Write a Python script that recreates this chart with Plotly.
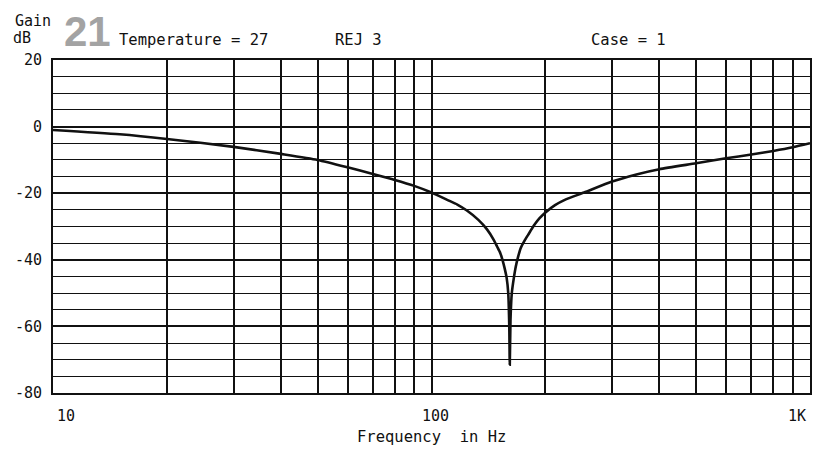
import math
import plotly.graph_objects as go

# ---- data ----
freq_hz = [10, 15, 20, 30, 40, 50, 60, 70, 80, 90, 100, 110, 117, 124, 133, 140, 146,
           149, 152, 154, 156, 158, 159.5, 160.5, 161, 161.7, 163, 165, 167, 169,
           172, 176, 180, 187, 193, 200, 212, 225, 253, 300, 350, 400, 500, 600,
           700, 800, 900, 1000]
gain_db = [-1.0, -2.3, -3.7, -6.1, -8.2, -10.0, -12.2, -14.2, -16.0, -17.8, -19.8,
           -22.0, -23.4, -25.2, -28.0, -30.8, -34.0, -36.0, -38.0, -40.0, -42.5, -45.5,
           -50.0, -60.0, -71.5, -58.0, -50.0, -45.5, -42.0, -39.5, -36.5, -34.3,
           -32.5, -29.5, -27.5, -25.8, -23.6, -22.0, -19.8, -16.5, -14.3, -12.8,
           -11.0, -9.5, -8.4, -7.3, -6.2, -5.0]

y_major = [-80, -60, -40, -20, 0, 20]
y_major_text = ["-80", "-60", "-40", "-20", "0", "20"]
y_minor = [-75, -70, -65, -55, -50, -45, -35, -30, -25, -15, -10, -5, 5, 10, 15]
x_major = [10, 100, 1000]
x_major_text = ["10", "100", "1K"]
x_minor = [20, 30, 40, 50, 60, 70, 80, 90, 200, 300, 400, 500, 600, 700, 800, 900]

FONT = "DejaVu Sans Mono, monospace"
INK = "#111111"

fig = go.Figure()
fig.add_trace(go.Scatter(x=freq_hz, y=gain_db, mode="lines",
                         line=dict(color=INK, width=2.6, shape="spline", smoothing=0.6),
                         hoverinfo="skip", showlegend=False))

fig.update_layout(
    width=821, height=450,
    margin=dict(l=53, r=11, t=60, b=57, autoexpand=False),
    paper_bgcolor="white", plot_bgcolor="white",
    font=dict(family=FONT, color=INK, size=14),
    xaxis=dict(type="log", range=[1, 3], tickvals=x_major, ticktext=["", "", ""],
               showgrid=True, gridcolor=INK, gridwidth=1.6, automargin=False,
               minor=dict(tickvals=x_minor, showgrid=True, gridcolor=INK, gridwidth=1.5),
               showline=True, linecolor=INK, linewidth=2, mirror=True,
               zeroline=False, ticks=""),
    yaxis=dict(range=[-80, 20], tickvals=y_major, ticktext=y_major_text,
               showgrid=True, gridcolor=INK, gridwidth=1.6, automargin=False,
               minor=dict(tickvals=y_minor, showgrid=True, gridcolor=INK, gridwidth=1.3),
               showline=True, linecolor=INK, linewidth=2, mirror=True,
               zeroline=False, ticks="", ticklabelstandoff=6,
               tickfont=dict(size=15, family=FONT, color=INK)),
)

# x tick labels
fig.add_annotation(x=math.log10(10), y=0, xref="x", yref="paper", yshift=-12,
                   text=x_major_text[0], showarrow=False, xanchor="left", yanchor="top",
                   xshift=2, font=dict(size=15, family=FONT, color=INK))
fig.add_annotation(x=math.log10(100), y=0, xref="x", yref="paper", yshift=-12,
                   text=x_major_text[1], showarrow=False, xanchor="center", yanchor="top",
                   xshift=4, font=dict(size=15, family=FONT, color=INK))
fig.add_annotation(x=math.log10(1000), y=0, xref="x", yref="paper", yshift=-12,
                   text=x_major_text[2], showarrow=False, xanchor="right", yanchor="top",
                   xshift=-2, font=dict(size=15, family=FONT, color=INK))

# axis title
fig.add_annotation(x=0.5, y=0, xref="paper", yref="paper", yshift=-33,
                   text="Frequency  in Hz", showarrow=False, xanchor="center",
                   yanchor="top", font=dict(size=15.5, family=FONT, color=INK))

# header texts (pixel positions converted to paper coords)
def px(xp):
    return (xp - 53) / (810 - 53)

def py(yp):
    return (393 - yp) / (393 - 60)

fig.add_annotation(x=px(13), y=py(21), xref="paper", yref="paper", text="Gain",
                   showarrow=False, xanchor="left", yanchor="middle",
                   font=dict(size=15, family=FONT, color=INK))
fig.add_annotation(x=px(11), y=py(38), xref="paper", yref="paper", text="dB",
                   showarrow=False, xanchor="left", yanchor="middle",
                   font=dict(size=15, family=FONT, color=INK))
fig.add_annotation(x=px(62), y=py(32), xref="paper", yref="paper", text="<b>21</b>",
                   showarrow=False, xanchor="left", yanchor="middle",
                   font=dict(size=42, family="Liberation Sans, Arial, sans-serif",
                             color="#a3a3a3"))
fig.add_annotation(x=px(117), y=py(40), xref="paper", yref="paper", text="Temperature = 27",
                   showarrow=False, xanchor="left", yanchor="middle",
                   font=dict(size=15.5, family=FONT, color=INK))
fig.add_annotation(x=px(333), y=py(40), xref="paper", yref="paper", text="REJ 3",
                   showarrow=False, xanchor="left", yanchor="middle",
                   font=dict(size=15.5, family=FONT, color=INK))
fig.add_annotation(x=px(589), y=py(40), xref="paper", yref="paper", text="Case = 1",
                   showarrow=False, xanchor="left", yanchor="middle",
                   font=dict(size=15.5, family=FONT, color=INK))

fig.write_html("out.html", config={"displayModeBar": False},
               post_script="document.body.style.margin='0';document.body.style.overflow='hidden';")
